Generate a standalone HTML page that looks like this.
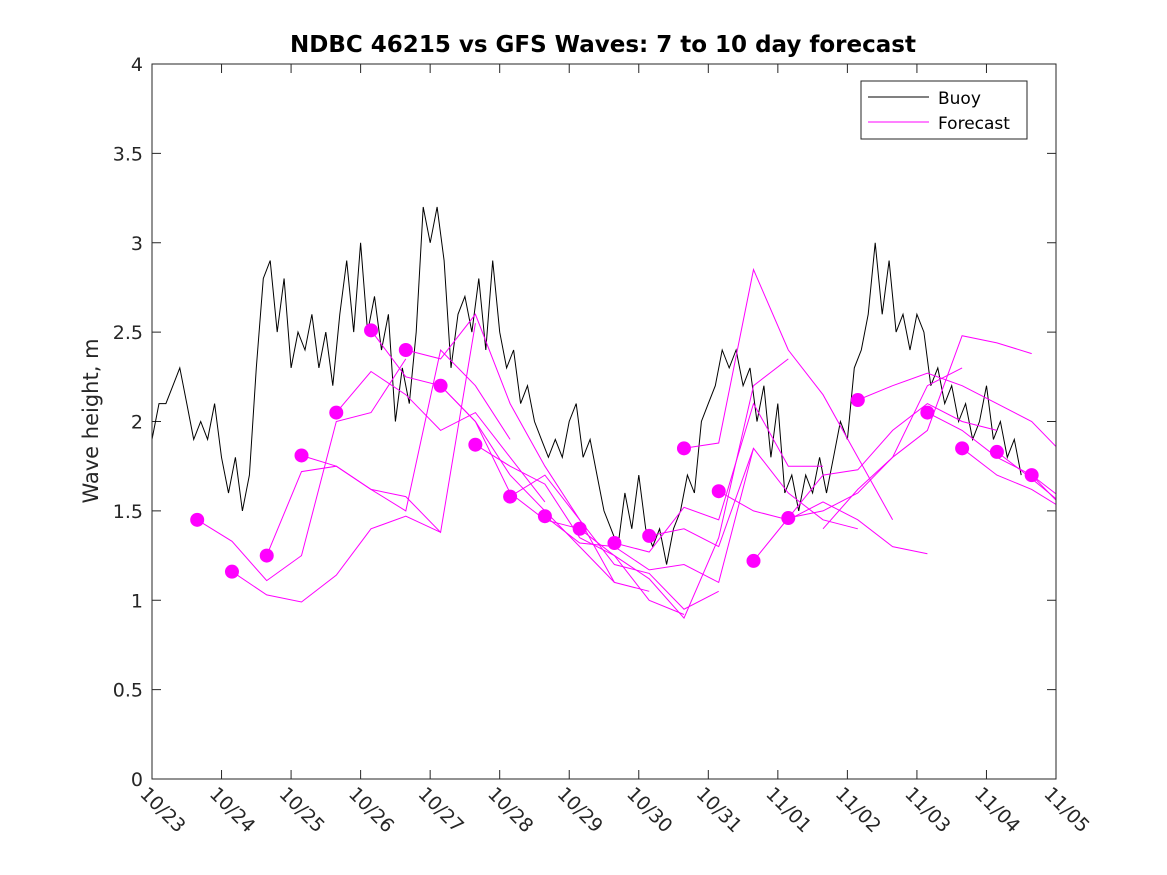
<!DOCTYPE html>
<html><head><meta charset="utf-8"><style>
body{margin:0;background:#fff;}
svg{display:block;font-family:"DejaVu Sans","Liberation Sans",sans-serif;}
</style></head><body>
<svg id="chart" width="1167" height="875" viewBox="0 0 1167 875">
<defs><clipPath id="plotclip"><rect x="152" y="64" width="904" height="715"/></clipPath></defs>
<rect x="0" y="0" width="1167" height="875" fill="#fff"/>
<text x="603" y="52" text-anchor="middle" font-size="23" font-weight="bold">NDBC 46215 vs GFS Waves: 7 to 10 day forecast</text>
<text transform="translate(98,421) rotate(-90)" text-anchor="middle" font-size="21" fill="#262626">Wave height, m</text>
<g id="axes"></g>
<g id="series" clip-path="url(#plotclip)"></g>
<rect x="152" y="64" width="904" height="715" fill="none" stroke="#262626" stroke-width="1"/>
<g>
<rect x="861" y="81" width="166" height="58" fill="#fff" stroke="#262626"/>
<line x1="868" y1="97" x2="929" y2="97" stroke="#000"/>
<text x="938" y="104" font-size="17">Buoy</text>
<line x1="868" y1="122" x2="929" y2="122" stroke="#f0f"/>
<text x="938" y="129" font-size="17">Forecast</text>
</g>
</svg>
<script>
const xTickLabels=["10/23","10/24","10/25","10/26","10/27","10/28","10/29","10/30","10/31","11/01","11/02","11/03","11/04","11/05"];
const yTicks=[0,0.5,1,1.5,2,2.5,3,3.5,4];
const yTickLabels=["0","0.5","1","1.5","2","2.5","3","3.5","4"];
const buoyStart=0, buoyStep=0.1;
const buoyValues=[1.9,2.1,2.1,2.2,2.3,2.1,1.9,2.0,1.9,2.1,
1.8,1.6,1.8,1.5,1.7,2.3,2.8,2.9,2.5,2.8,
2.3,2.5,2.4,2.6,2.3,2.5,2.2,2.6,2.9,2.5,
3.0,2.5,2.7,2.4,2.6,2.0,2.3,2.1,2.5,3.2,
3.0,3.2,2.9,2.3,2.6,2.7,2.5,2.8,2.4,2.9,
2.5,2.3,2.4,2.1,2.2,2.0,1.9,1.8,1.9,1.8,
2.0,2.1,1.8,1.9,1.7,1.5,1.4,1.3,1.6,1.4,
1.7,1.4,1.3,1.4,1.2,1.4,1.5,1.7,1.6,2.0,
2.1,2.2,2.4,2.3,2.4,2.2,2.3,2.0,2.2,1.8,
2.1,1.6,1.7,1.5,1.7,1.6,1.8,1.6,1.8,2.0,
1.9,2.3,2.4,2.6,3.0,2.6,2.9,2.5,2.6,2.4,
2.6,2.5,2.2,2.3,2.1,2.2,2.0,2.1,1.9,2.0,
2.2,1.9,2.0,1.8,1.9,1.7];
const runStarts=[0.65,1.15,1.65,2.15,2.65,3.15,3.65,4.15,4.65,5.15,5.65,6.15,6.65,7.15,7.65,8.15,8.65,9.15,9.65,10.15,11.15,11.65,12.15,12.65];
const runDots=[true,true,true,true,true,true,true,true,true,true,true,true,true,true,true,true,true,true,false,true,true,true,true,true];
const runStep=0.5;
const runValues=[
[1.45,1.33,1.11,1.25,2.0,2.05,2.35],
[1.16,1.03,0.99,1.14,1.40,1.47,1.38],
[1.25,1.72,1.75,1.62,1.58,1.38,2.55],
[1.81,1.75,1.62,1.50,2.40,2.20,1.90],
[2.05,2.28,2.15,1.95,2.05,1.80,1.55],
[2.51,2.25,2.20,2.00,1.60,1.45,1.40],
[2.40,2.35,2.60,2.10,1.75,1.45,1.10],
[2.20,2.00,1.70,1.50,1.30,1.10,1.05],
[1.87,1.75,1.65,1.35,1.25,1.00,0.92],
[1.58,1.70,1.45,1.20,1.15,0.95,1.05],
[1.47,1.32,1.30,1.17,1.20,1.10,1.85],
[1.40,1.25,1.12,0.90,1.35,2.20,2.35],
[1.32,1.27,1.52,1.45,2.10,1.75,1.75],
[1.36,1.40,1.30,1.85,1.60,1.45,1.40],
[1.85,1.88,2.85,2.40,2.15,1.80,1.45],
[1.61,1.50,1.45,1.55,1.45,1.30,1.26],
[1.22,1.46,1.50,1.60,1.80,2.20,2.30],
[1.46,1.70,1.73,1.95,2.10,2.00,1.95],
[1.40,1.62,1.80,1.95,2.48,2.44,2.38],
[2.12,2.20,2.27,2.20,2.10,2.00,1.80],
[2.05,1.95,1.80,1.70,1.50,1.35],
[1.85,1.70,1.62,1.50,1.30],
[1.83,1.68,1.52,1.38],
[1.70,1.55,1.38]];
const X0=152,X1=1056,Y0=779,Y1=64,xMin=0,xMax=13,yMin=0,yMax=4;
function xs(t){return X0+(t-xMin)/(xMax-xMin)*(X1-X0);}
function ys(v){return Y0-(v-yMin)/(yMax-yMin)*(Y0-Y1);}
const NS="http://www.w3.org/2000/svg";
const axes=document.getElementById('axes'),ser=document.getElementById('series');
function mk(tag,attrs,parent){const e=document.createElementNS(NS,tag);for(const k in attrs)e.setAttribute(k,attrs[k]);parent.appendChild(e);return e;}
xTickLabels.forEach((lab,i)=>{const x=xs(i);
 const t=mk('line',{x1:x,y1:Y0,x2:x,y2:Y0-9,stroke:'#262626'},axes);
 
 
 const t2=mk('line',{x1:x,y1:Y1,x2:x,y2:Y1+9,stroke:'#262626'},axes);
 
 
 const tx=mk('text',{x:0,y:0,'font-size':'19',fill:'#262626',transform:`translate(${x-13},${Y0+16}) rotate(45)`},axes);
 tx.textContent=lab;
 
 
});
yTicks.forEach((v,i)=>{const y=ys(v);
 const t=mk('line',{x1:X0,y1:y,x2:X0+9,y2:y,stroke:'#262626'},axes);
 
 
 const t2=mk('line',{x1:X1,y1:y,x2:X1-9,y2:y,stroke:'#262626'},axes);
 
 
 const tx=mk('text',{x:X0-9,y:y+7,'font-size':'19','text-anchor':'end',fill:'#262626'},axes);
 tx.textContent=yTickLabels[i];
 
 
});
const bp=buoyValues.map((v,i)=>xs(buoyStart+i*buoyStep).toFixed(1)+','+ys(v).toFixed(1)).join(' ');
const bl=mk('polyline',{points:bp,fill:'none',stroke:'#000','stroke-width':'1'},ser);


runValues.forEach((vals,r)=>{
 const p=vals.map((v,i)=>xs(runStarts[r]+i*runStep).toFixed(1)+','+ys(v).toFixed(1)).join(' ');
 const l=mk('polyline',{points:p,fill:'none',stroke:'#f0f','stroke-width':'1'},ser);
 
 
});
runValues.forEach((vals,r)=>{
 if(!runDots[r])return;
 const c=mk('circle',{cx:xs(runStarts[r]),cy:ys(vals[0]),r:7,fill:'#f0f'},ser);
 
 
});
</script>
</body></html>
